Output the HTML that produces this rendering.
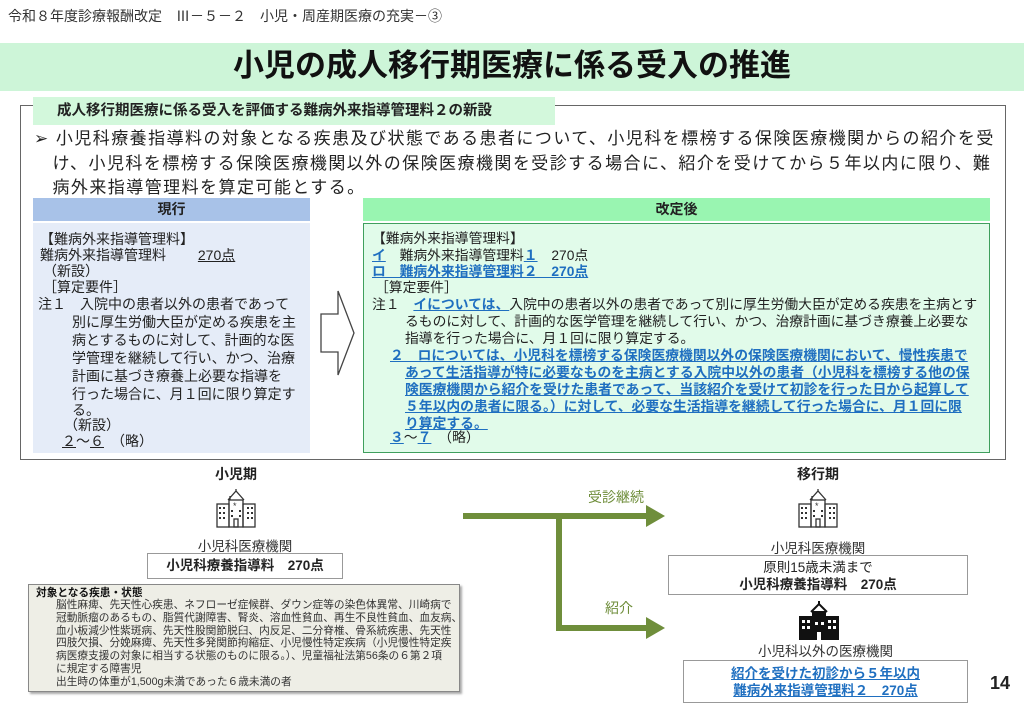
<!DOCTYPE html>
<html><head><meta charset="utf-8"><style>
*{margin:0;padding:0;box-sizing:border-box}
body{width:1024px;height:709px;position:relative;background:#fff;font-family:"Liberation Sans","Noto Sans CJK JP",sans-serif;color:#222;overflow:hidden}
.a{position:absolute;white-space:nowrap}
.u{color:#1f6fc0;text-decoration:underline;font-weight:bold}
.ul{text-decoration:underline}
.l{position:absolute;white-space:nowrap;font-size:14px;line-height:18px}
.r{position:absolute;white-space:nowrap;font-size:13.8px;line-height:17px}
.g{position:absolute;white-space:nowrap;font-size:10.7px;line-height:12.8px;color:#333}
</style></head><body>
<div class="a" style="left:8px;top:6px;font-size:14px;color:#333">令和８年度診療報酬改定　Ⅲ－５－２　小児・周産期医療の充実－③</div>
<div class="a" style="left:0;top:43px;width:1024px;height:48px;background:#cdf5d8"></div>
<div class="a" style="left:0;top:45px;width:1024px;text-align:center;font-size:31px;font-weight:bold;color:#111;line-height:42px">小児の成人移行期医療に係る受入の推進</div>
<div class="a" style="left:20px;top:105px;width:986px;height:355px;border:1.5px solid #666"></div>
<div class="a" style="left:33px;top:97px;width:522px;height:28px;background:#d3f8dc;font-size:14.5px;font-weight:bold;line-height:28px;padding-left:24px">成人移行期医療に係る受入を評価する難病外来指導管理料２の新設</div>
<div class="a" style="left:34px;top:127px;font-size:17px;line-height:24.5px;letter-spacing:1.45px;color:#222">➢ 小児科療養指導料の対象となる疾患及び状態である患者について、小児科を標榜する保険医療機関からの紹介を受<br>　け、小児科を標榜する保険医療機関以外の保険医療機関を受診する場合に、紹介を受けてから５年以内に限り、難<br>　病外来指導管理料を算定可能とする。</div>
<!-- 現行 -->
<div class="a" style="left:33px;top:198px;width:277px;height:23px;background:#a8c2e8;text-align:center;font-weight:bold;font-size:14px;line-height:23px">現行</div>
<div class="a" style="left:33px;top:223px;width:277px;height:230px;background:#e5ecf8"></div>
<div class="l" style="left:40px;top:230px">【難病外来指導管理料】</div>
<div class="l" style="left:40px;top:246px">難病外来指導管理料　　 <span class="ul">270点</span></div>
<div class="l" style="left:43px;top:262px">（新設）</div>
<div class="l" style="left:43px;top:278px">［算定要件］</div>
<div class="l" style="left:38px;top:295px">注１　入院中の患者以外の患者であって</div>
<div class="l" style="left:72px;top:313px">別に厚生労働大臣が定める疾患を主</div>
<div class="l" style="left:72px;top:331px">病とするものに対して、計画的な医</div>
<div class="l" style="left:72px;top:349px">学管理を継続して行い、かつ、治療</div>
<div class="l" style="left:72px;top:367px">計画に基づき療養上必要な指導を</div>
<div class="l" style="left:72px;top:385px">行った場合に、月１回に限り算定す</div>
<div class="l" style="left:72px;top:401px">る。</div>
<div class="l" style="left:64px;top:416px">（新設）</div>
<div class="l" style="left:62px;top:432px"><span class="ul">２</span>～<span class="ul">６</span>　（略）</div>
<!-- arrow -->
<svg class="a" style="left:318px;top:288px" width="40" height="90"><path d="M3 26 H20 V3 L36 45 L20 87 V64 H3 Z" fill="#fff" stroke="#444" stroke-width="1.3"/></svg>
<!-- 改定後 -->
<div class="a" style="left:363px;top:198px;width:627px;height:23px;background:#99f5b1;text-align:center;font-weight:bold;font-size:14px;line-height:23px">改定後</div>
<div class="a" style="left:363px;top:223px;width:627px;height:230px;background:#e1fbea;border:1.5px solid #3f9f5d"></div>
<div class="r" style="left:372px;top:230px">【難病外来指導管理料】</div>
<div class="r" style="left:372px;top:247px"><span class="u">イ</span>　難病外来指導管理料<span class="u">１</span>　270点</div>
<div class="r" style="left:372px;top:263px"><span class="u">ロ　難病外来指導管理料２　270点</span></div>
<div class="r" style="left:375px;top:279px">［算定要件］</div>
<div class="r" style="left:372px;top:296px">注１　<span class="u">イについては、</span>入院中の患者以外の患者であって別に厚生労働大臣が定める疾患を主病とす</div>
<div class="r" style="left:405px;top:313px">るものに対して、計画的な医学管理を継続して行い、かつ、治療計画に基づき療養上必要な<br>指導を行った場合に、月１回に限り算定する。</div>
<div class="r" style="left:390px;top:347px"><span class="u">２　ロについては、小児科を標榜する保険医療機関以外の保険医療機関において、慢性疾患で</span></div>
<div class="r" style="left:405px;top:364px"><span class="u">あって生活指導が特に必要なものを主病とする入院中以外の患者（小児科を標榜する他の保<br>険医療機関から紹介を受けた患者であって、当該紹介を受けて初診を行った日から起算して<br>５年以内の患者に限る。）に対して、必要な生活指導を継続して行った場合に、月１回に限<br>り算定する。</span></div>
<div class="r" style="left:390px;top:429px"><span class="u">３</span>～<span class="u">７</span>　（略）</div>
<!-- bottom left -->
<div class="a" style="left:206px;top:464px;width:60px;text-align:center;font-weight:bold;font-size:14px">小児期</div>
<svg class="a" style="left:213px;top:488px" width="46" height="40" viewBox="0 0 46 40" fill="none" stroke="#333" stroke-width="1.3">
<path d="M15 12 L23 3 L31 12 M17 12 V8 M23 3 V1"/><rect x="16" y="12" width="14" height="27"/><rect x="4" y="16" width="12" height="23"/><rect x="30" y="16" width="12" height="23"/><rect x="21" y="31" width="4" height="8"/>
<g fill="#333" stroke="none"><rect x="6" y="19" width="2" height="2"/><rect x="10" y="19" width="2" height="2"/><rect x="6" y="24" width="2" height="2"/><rect x="10" y="24" width="2" height="2"/><rect x="6" y="29" width="2" height="2"/><rect x="10" y="29" width="2" height="2"/><rect x="34" y="19" width="2" height="2"/><rect x="38" y="19" width="2" height="2"/><rect x="34" y="24" width="2" height="2"/><rect x="38" y="24" width="2" height="2"/><rect x="34" y="29" width="2" height="2"/><rect x="38" y="29" width="2" height="2"/><rect x="18" y="22" width="2" height="2"/><rect x="26" y="22" width="2" height="2"/><rect x="18" y="27" width="2" height="2"/><rect x="26" y="27" width="2" height="2"/></g><text x="20" y="21" font-size="9" fill="#333" stroke="none">*</text></svg>
<div class="a" style="left:147px;top:535px;width:196px;text-align:center;font-size:13.5px;color:#333">小児科医療機関</div>
<div class="a" style="left:147px;top:553px;width:196px;height:26px;border:1px solid #999;text-align:center;font-weight:bold;font-size:13.5px;line-height:24px">小児科療養指導料　270点</div>
<div class="a" style="left:28px;top:584px;width:432px;height:108px;background:#eeeee6;border:1px solid #888;box-shadow:2px 2px 2px #aaa"></div>
<div class="g" style="left:36px;top:587px;font-weight:bold;color:#111">対象となる疾患・状態</div>
<div class="g" style="left:56px;top:599px">脳性麻痺、先天性心疾患、ネフローゼ症候群、ダウン症等の染色体異常、川崎病で<br>冠動脈瘤のあるもの、脂質代謝障害、腎炎、溶血性貧血、再生不良性貧血、血友病、<br>血小板減少性紫斑病、先天性股関節脱臼、内反足、二分脊椎、骨系統疾患、先天性<br>四肢欠損、分娩麻痺、先天性多発関節拘縮症、小児慢性特定疾病（小児慢性特定疾<br>病医療支援の対象に相当する状態のものに限る。）、児童福祉法第56条の６第２項<br>に規定する障害児<br>出生時の体重が1,500g未満であった６歳未満の者</div>
<!-- arrows -->
<svg class="a" style="left:460px;top:495px" width="210" height="150">
<path d="M3 21 H190 M99 21 V133 H190" fill="none" stroke="#6f8e3b" stroke-width="6"/>
<path d="M186 10 L205 21 L186 32 Z M186 122 L205 133 L186 144 Z" fill="#6f8e3b"/></svg>
<div class="a" style="left:588px;top:487px;font-size:14px;color:#6f8e3b">受診継続</div>
<div class="a" style="left:605px;top:598px;font-size:14px;color:#6f8e3b">紹介</div>
<!-- bottom right -->
<div class="a" style="left:788px;top:464px;width:60px;text-align:center;font-weight:bold;font-size:14px">移行期</div>
<svg class="a" style="left:795px;top:488px" width="46" height="40" viewBox="0 0 46 40" fill="none" stroke="#333" stroke-width="1.3">
<path d="M15 12 L23 3 L31 12 M17 12 V8 M23 3 V1"/><rect x="16" y="12" width="14" height="27"/><rect x="4" y="16" width="12" height="23"/><rect x="30" y="16" width="12" height="23"/><rect x="21" y="31" width="4" height="8"/>
<g fill="#333" stroke="none"><rect x="6" y="19" width="2" height="2"/><rect x="10" y="19" width="2" height="2"/><rect x="6" y="24" width="2" height="2"/><rect x="10" y="24" width="2" height="2"/><rect x="6" y="29" width="2" height="2"/><rect x="10" y="29" width="2" height="2"/><rect x="34" y="19" width="2" height="2"/><rect x="38" y="19" width="2" height="2"/><rect x="34" y="24" width="2" height="2"/><rect x="38" y="24" width="2" height="2"/><rect x="34" y="29" width="2" height="2"/><rect x="38" y="29" width="2" height="2"/><rect x="18" y="22" width="2" height="2"/><rect x="26" y="22" width="2" height="2"/><rect x="18" y="27" width="2" height="2"/><rect x="26" y="27" width="2" height="2"/></g><text x="20" y="21" font-size="9" fill="#333" stroke="none">*</text></svg>
<div class="a" style="left:668px;top:537px;width:300px;text-align:center;font-size:13.5px;color:#333">小児科医療機関</div>
<div class="a" style="left:668px;top:555px;width:300px;height:40px;border:1px solid #999;text-align:center;font-size:13.5px;line-height:17px;padding-top:3px">原則15歳未満まで<br><b>小児科療養指導料　270点</b></div>
<svg class="a" style="left:797px;top:600px" width="44" height="40" viewBox="0 0 44 40">
<path d="M22 1 V5 M14 12 L22 4 L30 12" stroke="#111" stroke-width="2" fill="none"/><rect x="15" y="11" width="14" height="29" fill="#111"/><rect x="2" y="16" width="14" height="24" fill="#111"/><rect x="28" y="16" width="14" height="24" fill="#111"/>
<g fill="#fff"><rect x="5" y="20" width="3" height="3"/><rect x="10" y="20" width="3" height="3"/><rect x="5" y="26" width="3" height="3"/><rect x="10" y="26" width="3" height="3"/><rect x="31" y="20" width="3" height="3"/><rect x="36" y="20" width="3" height="3"/><rect x="31" y="26" width="3" height="3"/><rect x="36" y="26" width="3" height="3"/><rect x="20" y="32" width="4" height="8"/><rect x="18" y="22" width="3" height="3"/><rect x="24" y="22" width="3" height="3"/></g></svg>
<div class="a" style="left:683px;top:640px;width:285px;text-align:center;font-size:13.5px;color:#333">小児科以外の医療機関</div>
<div class="a" style="left:683px;top:660px;width:285px;height:43px;border:1px solid #999;text-align:center;font-size:13.5px;line-height:17px;padding-top:4px"><span class="u">紹介を受けた初診から５年以内</span><br><span class="u">難病外来指導管理料２　270点</span></div>
<div class="a" style="left:990px;top:673px;font-size:18px;font-weight:bold">14</div>
</body></html>
